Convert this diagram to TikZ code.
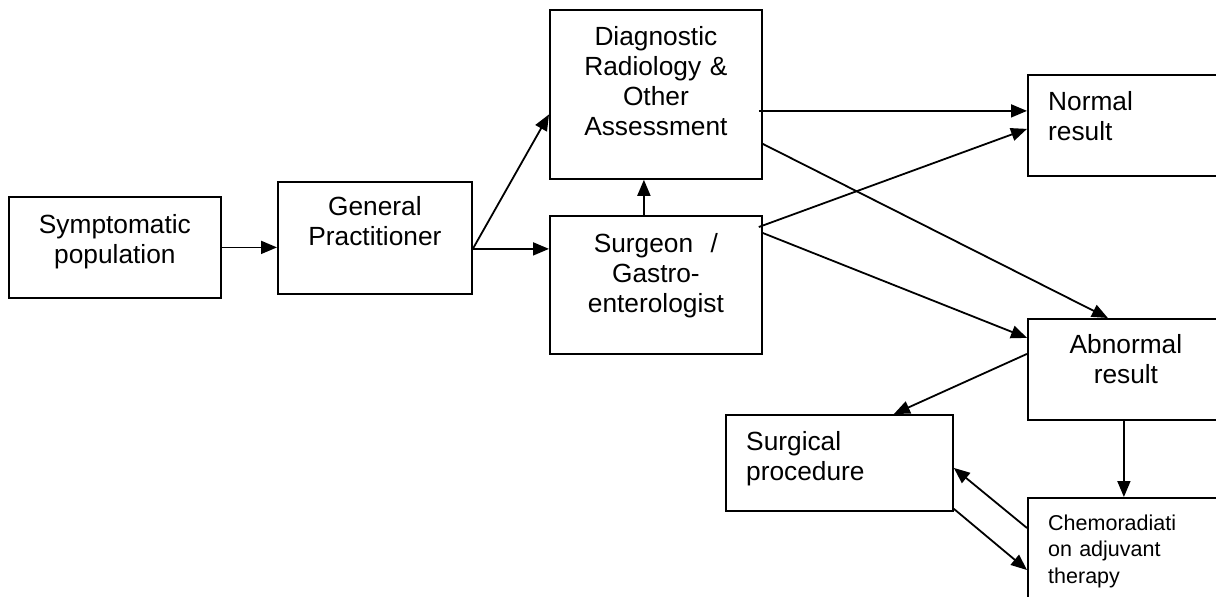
\documentclass[tikz,border=0pt]{standalone}
\usepackage{fontspec}
\setmainfont{Liberation Sans}
\usetikzlibrary{arrows.meta,calc}
\tikzset{
  box/.style={draw, line width=1.8pt, inner sep=0pt, anchor=north west},
  txt/.style={inner sep=0pt, font=\fontsize{26.3}{30}\selectfont},
  ctxt/.style={txt, text width=210pt, align=center, anchor=base},
  ltxt/.style={txt, text width=170pt, align=left, anchor=base west},
  arr/.style={line width=1.8pt, -{Triangle[length=16pt,width=13pt]}}
}
\begin{document}
\begin{tikzpicture}[x=1pt,y=-1pt]
\useasboundingbox (0,0) rectangle (1216,597);
\fill[white] (0,0) rectangle (1216,597);
% boxes
\node[box, minimum width=212pt, minimum height=101pt] (sym) at (8,196) {};
\node[box, minimum width=194pt, minimum height=112pt] (gp) at (277,181) {};
\node[box, minimum width=212pt, minimum height=169pt] (diag) at (549,9) {};
\node[box, minimum width=212pt, minimum height=138pt] (sur) at (549,215) {};
\node[box, minimum width=192pt, minimum height=101pt] (norm) at (1027,74) {};
\node[box, minimum width=192pt, minimum height=101pt] (abn) at (1027,318) {};
\node[box, minimum width=227pt, minimum height=96pt] (surg) at (725,414) {};
\node[box, minimum width=192pt, minimum height=110pt] (chemo) at (1027,497) {};
% texts
\node[ctxt] (symt) at ([yshift=-37pt]sym.north) {Symptomatic\\population};
\node[ctxt] (gpt) at ([yshift=-34pt]gp.north) {General\\Practitioner};
\node[ctxt] (diagt) at ([yshift=-36pt]diag.north) {Diagnostic\\Radiology \&\\Other\\Assessment};
\node[ctxt] (surt) at ([yshift=-37pt]sur.north) {Surgeon\ \ /\\Gastro-\\enterologist};
\node[ltxt] (normt) at ([xshift=21pt,yshift=-36pt]norm.north west) {Normal\\result};
\node[ctxt] (abnt) at ([xshift=2pt,yshift=-35pt]abn.north) {Abnormal\\result};
\node[ltxt] (surgt) at ([xshift=21pt,yshift=-36pt]surg.north west) {Surgical\\procedure};
\node[ltxt, font=\fontsize{21.5}{26.5}\selectfont] (chemot) at ([xshift=21pt,yshift=-33pt]chemo.north west) {Chemoradiati\\on adjuvant\\therapy};
% connectors
\draw[arr] (sym.east) -- (sym.east -| gp.west);
\coordinate (g1) at ([yshift=-11pt]gp.east);
\draw[arr] (g1) -- (g1 -| sur.west);
\draw[arr] (g1) -- ([yshift=-20pt]diag.west);
\coordinate (s1) at ([xshift=-12pt]sur.north);
\draw[arr] (s1) -- (s1 |- diag.south);
\coordinate (d1) at ([xshift=-4pt,yshift=-16.5pt]diag.east);
\draw[arr] (d1) -- (d1 -| norm.west);
\draw[arr] ([xshift=-4pt,yshift=-12pt]sur.north east) -- ([yshift=-3.5pt]norm.west);
\draw[arr] ([yshift=-49.5pt]diag.east) -- ([xshift=-16pt]abn.north);
\draw[arr] ([yshift=-18pt]sur.north east) -- ([yshift=31.5pt]abn.west);
\draw[arr] ([yshift=15.5pt]abn.west) -- ([xshift=54.5pt]surg.north);
\draw[arr] (abn.south) -- (abn.south |- chemo.north);
\draw[arr] ([yshift=-31pt]chemo.north west) -- ([yshift=-5pt]surg.east);
\draw[arr] ([yshift=3pt]surg.south east) -- ([yshift=-73pt]chemo.north west);
\end{tikzpicture}
\end{document}
